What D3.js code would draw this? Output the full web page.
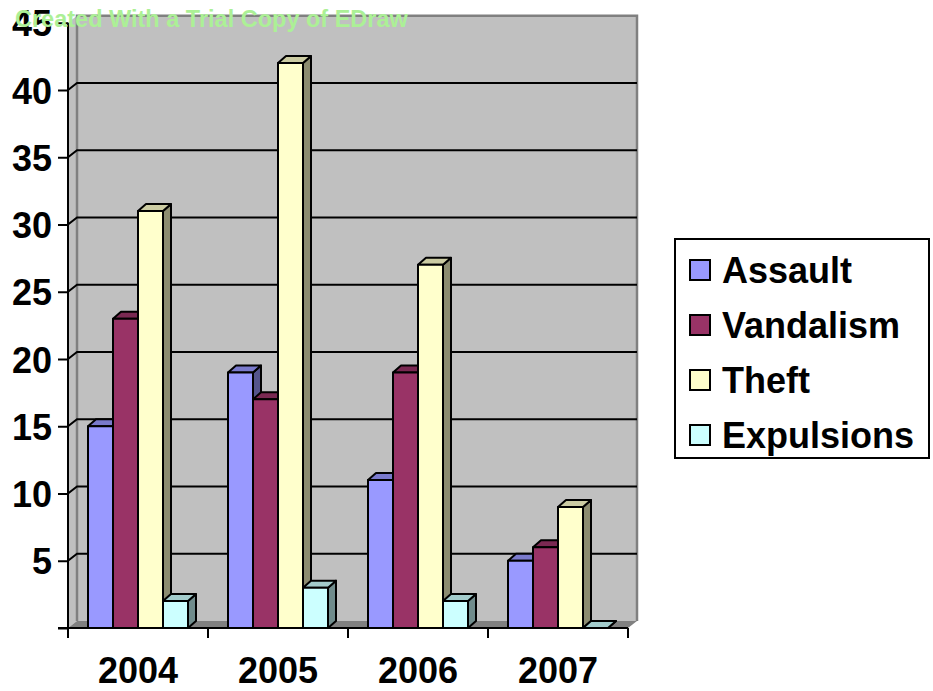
<!DOCTYPE html>
<html>
<head>
<meta charset="utf-8">
<script src="https://cdn.jsdelivr.net/npm/d3@7"></script>
<style>
  html, body { margin: 0; padding: 0; background: #fff; }
  svg { display: block; }
  text { font-family: "Liberation Sans", Arial, sans-serif; font-weight: bold; }
</style>
</head>
<body>
<svg id="chart" width="933" height="691"></svg>
<script>
// Incident counts per school year
const years = ["2004", "2005", "2006", "2007"];
const seriesNames = ["Assault", "Vandalism", "Theft", "Expulsions"];
const assault    = [15, 19, 11, 5];
const vandalism  = [23, 17, 19, 6];
const theft      = [31, 42, 27, 9];
const expulsions = [2, 3, 2, 0];
const yTicks = [0, 5, 10, 15, 20, 25, 30, 35, 40, 45];
const seriesColors = ["#9999FF", "#993366", "#FFFFCC", "#CCFFFF"];

const seriesValues = [assault, vandalism, theft, expulsions];

const svg = d3.select("#chart");

// Plot frame: front axis corner and 3D depth of walls / bars
const x0 = 68, x1 = 628, yFloor = 628;
const wallDX = 9, wallDY = -7;
const barDX = 8, barDY = -7;

const x = d3.scaleBand().domain(years).range([x0, x1]).paddingInner(0).paddingOuter(0);
const xs = d3.scaleBand().domain(seriesNames)
  .range([20, x.bandwidth() - 20]).paddingInner(0).paddingOuter(0);
const y = d3.scaleLinear().domain([0, 45]).range([yFloor, yFloor - 45 * 13.45]);

const yTop = y(45);

// Back wall
svg.append("rect")
  .attr("x", x0 + wallDX).attr("y", yTop + wallDY)
  .attr("width", x1 - x0).attr("height", yFloor - yTop)
  .attr("fill", "#C0C0C0");
// Side wall
svg.append("polygon")
  .attr("points", [[x0, yTop], [x0 + wallDX, yTop + wallDY], [x0 + wallDX, yFloor + wallDY], [x0, yFloor]].join(" "))
  .attr("fill", "#C0C0C0");
// Floor
svg.append("polygon")
  .attr("points", [[x0, yFloor], [x0 + wallDX, yFloor + wallDY], [x1 + wallDX, yFloor + wallDY], [x1, yFloor]].join(" "))
  .attr("fill", "#808080");

// Wall outlines
svg.append("path")
  .attr("d", `M${x0 + wallDX},${yFloor + wallDY} V${yTop + wallDY} H${x1 + wallDX} V${yFloor + wallDY}`)
  .attr("fill", "none").attr("stroke", "#808080").attr("stroke-width", 2.5);

// Gridlines on the back wall, with their run across the side wall
const grid = svg.append("g");
yTicks.filter(t => t > 0 && t < 45).forEach(t => {
  grid.append("path")
    .attr("d", `M${x0},${y(t)} L${x0 + wallDX},${y(t) + wallDY} H${x1 + wallDX}`)
    .attr("fill", "none").attr("stroke", "#000").attr("stroke-width", 2);
});

// Y axis with ticks
const yAxis = d3.axisLeft(y).tickValues(yTicks).tickSize(10).tickFormat(d => d === 0 ? "" : d);
const gy = svg.append("g").attr("transform", `translate(${x0},0)`).call(yAxis);
gy.select(".domain").remove();
gy.selectAll(".tick line").attr("stroke", "#000").attr("stroke-width", 2);
gy.selectAll(".tick text")
  .attr("x", -16).attr("dy", null).attr("y", 13)
  .attr("fill", "#000").style("font-size", "36px")
  .style("font-family", "'Liberation Sans', Arial, sans-serif").style("font-weight", "bold");
svg.append("line")
  .attr("x1", x0).attr("x2", x0).attr("y1", yTop).attr("y2", yFloor + 10)
  .attr("stroke", "#000").attr("stroke-width", 2);

// Bars drawn as 3D boxes: side, top, then front
function shade(c, k) {
  const r = d3.rgb(c);
  return d3.rgb(r.r * k, r.g * k, r.b * k).formatHex();
}
const bars = svg.append("g");
years.forEach((yr, i) => {
  seriesNames.forEach((s, j) => {
    const v = seriesValues[j][i];
    const bx = x(yr) + xs(s);
    const bw = xs.bandwidth();
    const by = y(v);
    const c = seriesColors[j];
    const g = bars.append("g").attr("stroke", "#000").attr("stroke-width", 2).attr("stroke-linejoin", "round");
    g.append("polygon")
      .attr("points", [[bx + bw, by], [bx + bw + barDX, by + barDY], [bx + bw + barDX, yFloor + barDY], [bx + bw, yFloor]].join(" "))
      .attr("fill", shade(c, 0.55));
    g.append("polygon")
      .attr("points", [[bx, by], [bx + barDX, by + barDY], [bx + bw + barDX, by + barDY], [bx + bw, by]].join(" "))
      .attr("fill", shade(c, 0.8));
    if (v > 0) {
      g.append("rect")
        .attr("x", bx).attr("y", by).attr("width", bw).attr("height", yFloor - by)
        .attr("fill", c);
    }
  });
});

// Category axis
const xAxis = d3.axisBottom(x).tickSize(0).tickSizeOuter(0);
const gx = svg.append("g").attr("transform", `translate(0,${yFloor})`).call(xAxis);
gx.select(".domain").remove();
gx.selectAll(".tick text")
  .attr("y", 55).attr("dy", null)
  .attr("fill", "#000").style("font-size", "36px")
  .style("font-family", "'Liberation Sans', Arial, sans-serif").style("font-weight", "bold");
svg.append("line")
  .attr("x1", x0 - 10).attr("x2", x1).attr("y1", yFloor).attr("y2", yFloor)
  .attr("stroke", "#000").attr("stroke-width", 2);
svg.append("g").selectAll("line")
  .data(years.map(d => x(d)).concat([x1]))
  .join("line")
  .attr("x1", d => d).attr("x2", d => d)
  .attr("y1", yFloor).attr("y2", yFloor + 10)
  .attr("stroke", "#000").attr("stroke-width", 2);

// Legend
const legend = svg.append("g");
legend.append("rect")
  .attr("x", 675).attr("y", 239).attr("width", 254).attr("height", 219)
  .attr("fill", "#fff").attr("stroke", "#000").attr("stroke-width", 2);
seriesNames.forEach((s, j) => {
  const base = 283 + j * 55;
  legend.append("rect")
    .attr("x", 690).attr("y", base - 23).attr("width", 20).attr("height", 20)
    .attr("fill", seriesColors[j]).attr("stroke", "#000").attr("stroke-width", 2);
  legend.append("text")
    .attr("x", 722).attr("y", base)
    .attr("fill", "#000").style("font-size", "36px")
    .text(s);
});

// Watermark
svg.append("text")
  .attr("x", 15).attr("y", 27)
  .attr("fill", "#ACF096").style("font-size", "23.5px")
  .text("Created With a Trial Copy of EDraw");
</script>
</body>
</html>
